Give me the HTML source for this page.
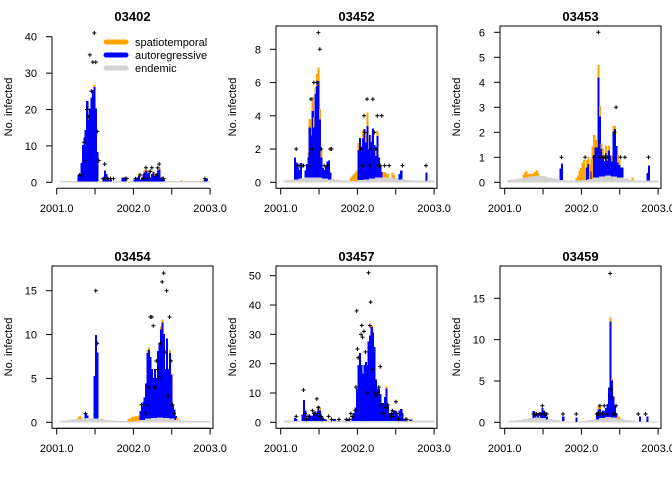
<!DOCTYPE html>
<html><head><meta charset="utf-8">
<style>
html,body{margin:0;padding:0;background:#fff;}
svg{display:block;font-family:"Liberation Sans",Arial,sans-serif;}
</style></head>
<body>
<svg id="chart" width="672" height="480" viewBox="0 0 672 480"></svg>
<script>
// ---- data (week index: 0 = start of 2001, 52 weeks per year) ----
const panelTitles = ["03402","03452","03453","03454","03457","03459"];
const yTicks = [[0,10,20,30,40],[0,2,4,6,8],[0,1,2,3,4,5,6],[0,5,10,15],[0,10,20,30,40,50],[0,5,10,15]];
const yMaxes = [40,8,6,15,50,15];
const xTickLabels = ["2001.0","2002.0","2003.0"];
const xTickYears = [2001,2001.5,2002,2002.5,2003];
// endemic component, one value per 4-week block (weeks 0..103)
const endemic1 = [0.3,0.3,0.3,0.3,0.3,0.3,0.3,0.3,0.3,0.3,0.3,0.3,0.3,0.3,0.3,0.3,0.3,0.3,0.3,0.3,0.3,0.3,0.3,0.3,0.3,0.3];
const endemic2 = [0.1,0.15,0.2,0.25,0.3,0.32,0.3,0.25,0.2,0.15,0.1,0.1,0.1,0.15,0.2,0.25,0.3,0.32,0.3,0.25,0.2,0.15,0.1,0.1,0.1,0.1];
const endemic3 = [0.1,0.12,0.16,0.2,0.25,0.27,0.25,0.2,0.15,0.1,0.08,0.08,0.08,0.1,0.14,0.2,0.25,0.28,0.25,0.2,0.15,0.1,0.08,0.08,0.08,0.08];
const endemic4 = [0.15,0.2,0.3,0.4,0.45,0.5,0.45,0.35,0.25,0.2,0.15,0.15,0.15,0.2,0.3,0.45,0.55,0.6,0.55,0.45,0.3,0.2,0.15,0.15,0.15,0.15];
const endemic5 = [0.6,0.6,0.6,0.6,0.6,0.6,0.6,0.6,0.6,0.6,0.6,0.6,0.6,0.6,0.6,0.6,0.6,0.6,0.6,0.6,0.6,0.6,0.6,0.6,0.6,0.6];
const endemic6 = [0.1,0.2,0.3,0.4,0.55,0.6,0.55,0.4,0.3,0.2,0.12,0.1,0.1,0.15,0.25,0.4,0.55,0.7,0.6,0.45,0.3,0.2,0.12,0.1,0.1,0.1];
// autoregressive component: [week, value]
const ar1 = [[14,1.5],[15,2],[16,5],[17,10],[18,12],[19,14],[20,22],[21,17],[22,20],[23,23],[24,25],[25,26],[26,20],[27,8],[31,1],[32,3],[33,2],[34,1],[35,0.5],[36,0.5],[44,1],[45,1],[46,0.5],[52,0.5],[53,0.5],[54,1],[55,1.5],[56,0.5],[57,1],[58,2],[59,2.5],[60,3],[61,2],[62,2.5],[63,1],[64,2],[65,2.5],[66,1.5],[67,2],[68,3],[69,3.3],[70,1],[71,0.5],[72,0.5],[100,0.5],[101,0.8]];
const ar2 = [[9,1.3],[10,1],[11,0.7],[12,0.5],[13,0.9],[16,0.4],[17,0.8],[18,1.2],[19,3],[20,2.5],[21,4],[22,3],[23,5],[24,5.5],[25,5.8],[26,3.5],[27,1.2],[28,0.6],[29,0.5],[30,0.8],[31,1],[32,1.1],[33,0.4],[52,1.8],[53,2.5],[54,2],[55,2.5],[56,3],[57,2.2],[58,3.2],[59,1.8],[60,2.6],[61,2.2],[62,3],[63,2],[64,1.3],[65,2.5],[66,1.2],[67,0.7],[68,0.3],[80,0.3],[81,0.5],[98,0.5]];
const ar3 = [[37,0.45],[38,0.65],[55,0.5],[56,0.6],[58,0.3],[60,0.9],[61,1.2],[62,1.2],[63,4],[64,2.4],[65,1.1],[66,0.8],[67,0.6],[68,0.9],[69,0.6],[70,1],[71,0.8],[72,0.6],[73,1.8],[74,1.9],[75,1.2],[76,0.6],[77,0.5],[78,0.4],[79,0.4],[96,0.3],[97,0.6]];
const ar4 = [[19,0.6],[20,0.3],[25,4.8],[26,9.5],[27,7.5],[56,1],[57,1.5],[58,2],[59,2.5],[60,4],[61,7.5],[62,7.8],[63,7],[64,5.5],[65,4.5],[66,5.5],[67,4.5],[68,7.5],[69,8.5],[70,10],[71,10.8],[72,9.5],[73,5.5],[74,9],[75,5.5],[76,7.5],[77,5],[78,1.5],[79,1],[80,0.4]];
const ar5 = [[9,0.8],[10,0.6],[14,2],[15,7],[16,3.5],[17,0.8],[18,1.2],[19,1.8],[20,1.2],[21,1.8],[22,2.5],[23,3],[24,2.5],[25,5],[26,3.5],[27,1.5],[28,1],[29,0.5],[30,0.3],[35,0.6],[36,0.6],[44,0.5],[45,0.5],[48,1.5],[49,2.5],[50,4.5],[51,11],[52,19],[53,23],[54,19],[55,16],[56,19],[57,20],[58,19],[59,27],[60,29],[61,32],[62,30],[63,25],[64,14],[65,11],[66,11],[67,9],[68,6],[69,6],[70,8],[71,11],[72,5.5],[73,2.5],[74,2.5],[75,2.5],[76,3.5],[77,3.5],[78,2],[79,1.5],[80,3.5],[81,4],[82,2.5],[83,0.5],[87,0.3],[88,0.3]];
const ar6 = [[19,0.8],[20,0.4],[22,0.5],[24,0.6],[25,1.2],[26,0.9],[27,0.5],[28,0.3],[39,0.5],[48,0.5],[62,0.8],[63,1.2],[64,1.1],[65,0.7],[66,0.9],[67,0.8],[68,1],[69,1.5],[70,3.5],[71,11.5],[72,4.5],[73,2.5],[74,1.5],[75,0.5],[91,0.6],[96,0.6]];
// spatiotemporal component: [week, value]
const ne1 = [[25,0.6],[55,0.6],[59,0.6],[62,0.6],[66,0.6],[69,0.4],[84,0.4],[99,0.4]];
const ne2 = [[18,0.3],[19,0.5],[21,0.8],[22,0.6],[23,0.4],[24,0.7],[25,0.8],[26,0.6],[27,0.4],[47,0.2],[48,0.3],[49,0.4],[50,0.5],[51,0.6],[52,0.4],[55,0.5],[57,0.6],[58,0.8],[61,0.4],[64,0.4],[65,0.3],[69,0.3],[70,0.3],[71,0.2],[72,0.2],[75,0.3],[76,0.2]];
const ne3 = [[12,0.1],[13,0.2],[14,0.25],[15,0.1],[16,0.1],[17,0.08],[18,0.08],[19,0.1],[20,0.15],[21,0.2],[22,0.1],[48,0.1],[49,0.2],[50,0.4],[51,0.5],[52,0.7],[53,0.8],[54,0.5],[55,0.3],[56,0.3],[57,0.6],[58,0.5],[59,1.3],[60,0.8],[61,0.3],[63,0.5],[64,0.4],[65,0.2],[66,0.3],[68,0.3],[69,0.4],[70,0.2],[72,0.2],[73,0.2],[74,0.1],[76,0.3],[77,0.2],[86,0.1]];
const ne4 = [[14,0.2],[15,0.3],[16,0.1],[30,0.1],[48,0.2],[49,0.3],[50,0.4],[51,0.5],[52,0.4],[53,0.5],[54,0.4],[55,0.6],[61,0.3],[62,0.3],[70,0.3],[71,0.3],[76,0.3],[81,0.2]];
const ne5 = [[26,0.8],[61,0.5],[71,0.8]];
const ne6 = [[63,0.4],[64,0.3],[71,0.5],[72,0.2],[76,0.3],[77,0.2]];
// observed counts: [week, count]
const obs1 = [[15,2],[16,2],[18,11],[19,6],[20,20],[21,18],[22,35],[23,25],[24,33],[25,41],[26,33],[27,14],[28,6],[31,1],[32,5],[33,1],[34,1],[36,1],[38,1],[46,1],[47,1],[53,1],[56,2],[58,1],[60,4],[61,1],[63,3],[64,4],[67,2],[68,4],[69,5],[71,1],[72,1],[100,1]];
const obs2 = [[10,2],[11,1],[12,1],[14,1],[15,1],[19,1],[20,5],[21,2],[22,6],[24,6],[25,9],[26,8],[27,2],[29,1],[31,1],[33,2],[34,2],[54,2],[55,1],[56,4],[56.5,3],[58,5],[60,1],[61,2],[62,5],[63,3],[64,2],[65,4],[66,1],[67,1],[68,4],[70,1],[73,1],[82,1],[98,1]];
const obs3 = [[38,1],[54,1],[60,1],[63,6],[64,1],[66,1],[67,1],[68,1],[69,1],[74,2],[75,3],[78,1],[81,1],[97,1]];
const obs4 = [[19,1],[26,15],[27,9],[57,2],[60,1],[61,2],[62,4],[63,12],[64,12],[65,11],[66,4],[67,7],[68,6],[69,5],[70,9],[71,16],[72,17],[73,8],[74,15],[75,3],[76,12],[77,7],[78,2],[79,1]];
const obs5 = [[10,2],[15,11],[16,3],[17,1],[18,2],[19,2],[21,4],[22,3],[23,3],[24,8],[24.5,3],[25,5],[26,2],[27,2],[28,1],[32,2],[34,1],[39,1],[44,1],[46,1],[47,3],[48,2],[50,4],[50.5,12],[51,38],[51.5,25],[52,22],[54,30],[54.5,33],[55,29],[56,31],[57,24],[58,10],[59,51],[60,33],[60.5,41],[62,18],[63.5,10],[64,9],[65.5,10],[66,12],[67,19],[67.5,6],[69,3],[69.5,3],[70.5,5],[71.5,5],[72,6],[74,2],[74.7,3],[75.2,4],[76,2],[77.6,7],[78.3,3],[79.4,1],[84,1],[85,1]];
const obs6 = [[19,1],[20,1],[21,1],[23,1],[24,1],[25,2],[26,1],[27,1],[28,1],[39,1],[48,1],[62,1],[63,1],[64,2],[65,1],[66,1],[67,2],[69,1],[71,18],[71.6,4],[72,3],[73,1],[74,1],[75,2],[90,1],[95,1]];

const endemics = [endemic1,endemic2,endemic3,endemic4,endemic5,endemic6];
const ars = [ar1,ar2,ar3,ar4,ar5,ar6];
const nes = [ne1,ne2,ne3,ne4,ne5,ne6];
const obss = [obs1,obs2,obs3,obs4,obs5,obs6];

const NS = "http://www.w3.org/2000/svg";
const svg = document.getElementById("chart");
function mk(tag, attrs, parent){
  const e = document.createElementNS(NS, tag);
  for (const k in attrs) e.setAttribute(k, attrs[k]);
  parent.appendChild(e);
  return e;
}
const X0 = 56.7, PXYR = 76.7, Y0 = 182.3;
const WEEKW = PXYR/52;
const FIRSTWEEK = 2, LASTWEEK = 103;
const topPxs = [36.7,49.3,32.3,50.7,35.7,58.3];

for (let p = 0; p < 6; p++) {
  const ox = (p % 3) * 224, oy = Math.floor(p / 3) * 240;
  const g = mk("g", {transform: "translate(" + ox + "," + oy + ")"}, svg);
  
  
  const topPx = topPxs[p];
  const topVal = yMaxes[p];
  const y = v => Y0 - v * (Y0 - topPx) / topVal;
  const xw = w => X0 + w * WEEKW;
  const xy = yr => X0 + (yr - 2001) * PXYR;

  const endemicAt = w => endemics[p][Math.min(25, Math.floor(w / 4))];
  const arMap = {}; ars[p].forEach(d => arMap[d[0]] = d[1]);
  const neMap = {}; nes[p].forEach(d => neMap[d[0]] = d[1]);

  const bars = mk("g", {"shape-rendering": "crispEdges"}, g);
  
  
  for (let w = FIRSTWEEK; w <= LASTWEEK; w++) {
    const e = endemicAt(w), a = arMap[w] || 0, n = neMap[w] || 0;
    const x = xw(w);
    const bw = WEEKW + 0.6;
    const r1 = mk("rect", {x: x, y: y(e), width: bw, height: y(0) - y(e), fill: "#D3D3D3"}, bars);
    
    
    if (a > 0) {
      const r2 = mk("rect", {x: x, y: y(e + a), width: bw, height: y(e) - y(e + a) + 0.3, fill: "#0000FF"}, bars);
      
      
    }
    if (n > 0) {
      const r3 = mk("rect", {x: x, y: y(e + a + n), width: bw, height: y(e + a) - y(e + a + n) + 0.3, fill: "#FFA500"}, bars);
      
      
    }
  }
  obss[p].forEach(d => {
    const cx = xw(d[0]) + WEEKW / 2, cy = y(d[1]);
    const pt = mk("path", {d: "M" + (cx - 2) + " " + cy + "H" + (cx + 2) + "M" + cx + " " + (cy - 2) + "V" + (cy + 2), stroke: "#000", "stroke-width": 1, fill: "none"}, g);
    
    
  });
  if (p !== 0) {
    const box = mk("rect", {x: 52, y: 26, width: 161, height: 162.3, fill: "none", stroke: "#000", "stroke-width": 1}, g);
    
    
  }
  const yt = yTicks[p];
  const yax = mk("line", {x1: 52, x2: 52, y1: y(yt[0]), y2: y(yt[yt.length - 1]), stroke: "#000"}, g);
  
  
  yt.forEach(v => {
    mk("line", {x1: 46, x2: 52, y1: y(v), y2: y(v), stroke: "#000"}, g);
    const t = mk("text", {x: 37, y: y(v) + 4, "text-anchor": "end", "font-size": 11, fill: "#000"}, g);
    t.textContent = v;
    
    
  });
  const xax = mk("line", {x1: xy(2001), x2: xy(2003), y1: 188.3, y2: 188.3, stroke: "#000"}, g);
  
  
  xTickYears.forEach(yr => mk("line", {x1: xy(yr), x2: xy(yr), y1: 188.3, y2: 194.5, stroke: "#000"}, g));
  xTickLabels.forEach(lbl => {
    const t = mk("text", {x: xy(parseFloat(lbl)), y: 212, "text-anchor": "middle", "font-size": 11, fill: "#000"}, g);
    t.textContent = lbl;
    
    
  });
  const tt = mk("text", {x: 132.5, y: 21, "text-anchor": "middle", "font-size": 13, "font-weight": "bold", fill: "#000"}, g);
  tt.textContent = panelTitles[p];
  
  
  const yl = mk("text", {x: 0, y: 0, transform: "translate(12,107) rotate(-90)", "text-anchor": "middle", "font-size": 11, fill: "#000"}, g);
  yl.textContent = "No. infected";
  
  

  if (p === 0) {
    const lg = mk("g", {}, g);
    
    
    const items = [["spatiotemporal","#FFA500",42],["autoregressive","#0000FF",55],["endemic","#D3D3D3",68]];
    items.forEach(it => {
      const ln = mk("line", {x1: 106, x2: 126, y1: it[2], y2: it[2], stroke: it[1], "stroke-width": 5, "stroke-linecap": "round"}, lg);
      
      
      const t = mk("text", {x: 135, y: it[2] + 4, "font-size": 11, fill: "#000"}, lg);
      t.textContent = it[0];
      
      
    });
  }
}
</script>
</body></html>
